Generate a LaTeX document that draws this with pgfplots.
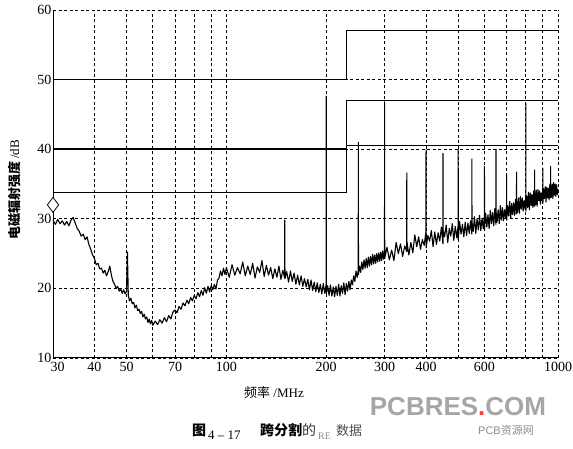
\documentclass[border=0pt]{standalone}
\usepackage{fontspec}
\setmainfont{Liberation Serif}
\newfontfamily\cjk{Noto Sans CJK SC}
\newfontfamily\wm{Liberation Sans}
\usepackage{pgfplots}
\usepackage{pgfplotstable}
\pgfplotsset{compat=1.18}

\pgfplotstableread{
f db
30 29.8
30.5 29.2
31 29.9
31.5 29.3
32 29.7
32.5 29.1
33 29.6
33.5 29.0
34 29.8
34.5 30.2
35 29.4
35.5 28.6
36 28.2
36.5 27.5
37 27.8
37.5 27.0
38 27.4
38.5 26.3
39 25.6
39.5 24.8
40 24.3
40.5 23.4
41 23.6
41.5 22.8
42 22.9
42.5 22.2
43 22.6
43.5 21.8
44 22.4
44.5 23.2
45 21.9
45.5 21.0
46 20.6
46.5 20.0
47 20.3
47.5 19.6
48 19.9
48.5 19.3
49 19.8
49.5 19.2
50 19.6
50.3 25.2
50.6 19.0
51 18.2
51.5 18.6
52 17.8
52.5 18.0
53 17.2
53.5 17.6
54 16.8
54.5 17.0
55 16.4
55.5 16.7
56 15.9
56.5 16.3
57 15.6
57.5 15.9
58 15.1
58.5 15.6
59 14.9
59.5 15.4
60 14.7
61 15.3
62 14.8
63 15.5
64 15.0
65 15.8
66 15.2
67 16.1
68 15.6
69 16.6
70 16.9
71 16.5
72 17.4
73 17.0
74 17.9
75 17.5
76 18.3
77 17.8
78 18.7
79 18.2
80 19.0
81 18.5
82 19.4
83 18.8
84 19.7
85 19.0
86 20.1
87 19.3
88 20.3
89 19.5
90 20.4
91 19.8
92 20.6
93 19.9
94 21.2
95 21.5
96 22.5
97 21.8
98 22.9
99 22.0
100 23.0
102 21.6
104 23.4
106 21.9
108 23.0
110 22.1
112 23.8
114 21.8
116 23.2
118 22.0
120 23.6
122 21.5
124 23.1
126 22.3
128 24.0
130 21.7
132 23.3
134 21.9
136 23.0
138 21.4
140 22.8
142 21.6
144 23.2
146 21.3
148 22.6
149.8 21.5
150 29.8
150.2 21.4
152 22.4
154 20.9
156 22.5
158 21.0
160 22.2
162 20.6
164 21.9
166 20.5
168 21.8
170 20.3
172 21.4
174 20.2
176 21.3
178 19.8
180 21.2
182 19.7
184 20.9
186 19.5
188 20.8
190 19.4
192 20.6
194 19.2
196 20.7
198 19.3
199.8 20.5
200 47.6
200.2 19.2
202 20.4
204 19.0
206 20.5
208 18.9
210 20.2
212 18.8
214 20.3
216 19.0
218 20.6
220 18.9
222 20.4
224 19.3
226 20.8
228 19.1
230 20.7
232 19.6
234 21.0
236 19.8
238 21.2
240 20.5
242 21.8
244 21.0
246 22.5
248 21.6
249.8 22.6
250 41.0
250.2 22.0
252 23.2
254 22.3
256 23.8
258 22.7
260 24.1
262 22.9
264 24.3
266 23.0
268 24.5
270 23.2
272 24.6
274 23.4
276 24.9
278 23.5
280 24.8
282 23.6
284 25.0
286 23.8
288 25.1
290 23.9
292 25.2
294 24.0
296 25.4
298 24.2
299.8 25.0
300 46.8
300.2 24.3
305 25.9
310 24.1
315 25.5
320 24.0
325 26.6
330 25.0
335 26.4
340 24.6
345 26.1
349.8 25.3
350 36.6
350.2 26.8
355 24.8
360 26.6
365 25.1
370 27.7
375 26.0
380 27.4
385 25.6
390 27.0
395 26.2
399.8 28.2
400 39.9
400.2 25.8
405 27.6
410 26.8
415 28.3
420 26.0
425 28.1
430 26.3
435 28.0
440 26.8
445 28.8
449.8 26.4
450 39.4
450.2 28.4
455 27.4
460 29.1
465 26.6
470 28.6
475 27.5
480 29.3
485 26.9
490 28.9
495 27.3
499.8 29.0
500 40.0
500.2 27.0
505 29.6
510 27.8
515 29.2
520 27.4
525 29.5
530 27.6
535 29.4
540 27.9
545 29.7
549.8 27.8
550 38.6
550.2 29.6
555 28.2
560 30.3
565 27.9
570 30.0
575 28.4
580 30.5
585 28.3
590 30.1
595 28.6
599.8 30.4
600 37.5
600.2 28.4
605 30.8
610 28.8
615 30.6
620 28.6
625 31.2
630 29.3
635 30.9
640 29.0
645 31.5
649.8 29.2
650 40.0
650.2 31.2
655 29.5
660 31.3
665 29.3
670 31.9
675 29.8
680 31.6
685 29.7
690 31.3
695 30.2
699.8 32.1
700 36.3
700.2 29.8
705 31.9
710 30.4
715 32.5
720 30.0
725 32.2
730 30.6
735 32.3
740 30.5
745 32.8
749.8 30.7
750 36.7
750.2 32.7
755 30.9
760 33.0
765 30.8
770 33.2
775 31.4
780 33.0
785 31.1
790 32.6
795 31.4
799.8 33.4
800 46.6
800.2 31.1
805 33.3
810 31.6
815 33.8
820 31.3
825 33.7
830 31.9
835 33.5
840 31.6
845 34.0
849.8 31.8
850 37.0
850.2 33.9
855 32.0
860 34.1
865 31.8
870 34.2
875 32.6
880 34.0
885 32.1
890 33.7
895 32.6
899.8 34.5
900 37.3
900.2 32.2
905 34.3
910 32.9
915 34.6
920 32.4
925 34.5
930 33.0
935 34.4
940 32.7
945 35.0
949.8 33.0
950 37.5
950.2 34.8
955 33.1
960 35.0
965 32.9
970 35.2
975 33.4
980 35.0
985 33.2
990 34.9
995 33.5
1000 34.3
}\trace

\begin{document}
\begin{tikzpicture}[x=1pt,y=1pt]
\path[use as bounding box] (0,0) rectangle (573,449);
\begin{axis}[
  at={(53pt,91pt)}, anchor=south west,
  scale only axis, width=505pt, height=348pt,
  xmode=log, xmin=30, xmax=1000, ymin=10, ymax=60,
  axis x line=bottom, axis y line=left,
  axis line style={-, line width=1pt},
  xtick={30,40,50,70,100,200,300,400,600,1000},
  xticklabels={\hspace*{9pt}30,40,50,70,100,200,\raisebox{-5pt}{300},400,600,1000},
  minor xtick={60,80,90,500,700,800,900},
  ytick={10,20,30,40,50,60},
  xmajorgrids, xminorgrids, ymajorgrids,
  grid style={black, line width=0.9pt, dash pattern=on 3pt off 2.5pt},
  minor grid style={black, line width=0.9pt, dash pattern=on 3pt off 2.5pt},
  major tick length=0pt, minor tick length=0pt,
  tick label style={font=\fontsize{14}{16}\selectfont},
  /pgf/number format/assume math mode=true,
  yticklabel style={xshift=2pt},
  xticklabel style={yshift=-1pt},
  xlabel={{\cjk 频率} /MHz},
  xlabel style={at={(axis description cs:0.4376,-0.098)}, anchor=center, font=\fontsize{13}{15}\selectfont},
  ylabel={{\cjk\bfseries 电磁辐射强度} /dB},
  ylabel style={at={(axis description cs:-0.077,0.483)}, anchor=center, font=\fontsize{13}{15}\selectfont},
  clip=false,
]
\addplot[black, line width=1pt] coordinates {(30,50) (230,50) (230,57) (1000,57)};
\addplot[black, line width=1.4pt] coordinates {(30,40) (230,40) (230,47) (1000,47)};
\addplot[black, line width=1pt] coordinates {(30,33.8) (230,33.8) (230,40.6) (1000,40.6)};
\addplot[black, line width=1.1pt, line join=round] table[x=f, y=db] {\trace};
\addplot[only marks, mark=diamond*, mark size=7.5pt, mark options={fill=white, draw=black, line width=0.8pt}] coordinates {(30,32)};
\end{axis}
% caption
\node[anchor=base west, inner sep=0pt, font=\fontsize{14}{16}\selectfont] at (192,13) {\cjk\bfseries 图};
\node[anchor=base west, inner sep=0pt, font=\fontsize{13}{15}\selectfont] at (208,9) {4 -- 17};
\node[anchor=base west, inner sep=0pt, font=\fontsize{14}{16}\selectfont] at (260,13) {\cjk\bfseries 跨分割};
\node[anchor=base west, inner sep=0pt, font=\fontsize{14}{16}\selectfont, text=black!80] at (302,13) {\cjk 的};
\node[anchor=base west, inner sep=0pt, font=\fontsize{10}{12}\selectfont, text=black!45] at (318,9) {RE};
\node[anchor=base west, inner sep=0pt, font=\fontsize{13}{15}\selectfont, text=black!70] at (336,13) {\cjk 数据};
% watermark
\node[anchor=center, inner sep=0pt, font=\fontsize{26}{28}\selectfont\wm\bfseries, text=black!35] at (458,42) {PCBRES\textcolor{red!75}{.}COM};
\node[anchor=center, inner sep=0pt, font=\fontsize{11}{13}\selectfont, text=black!45] at (506,19) {\wm PCB\cjk 资源网};
\end{tikzpicture}
\end{document}
